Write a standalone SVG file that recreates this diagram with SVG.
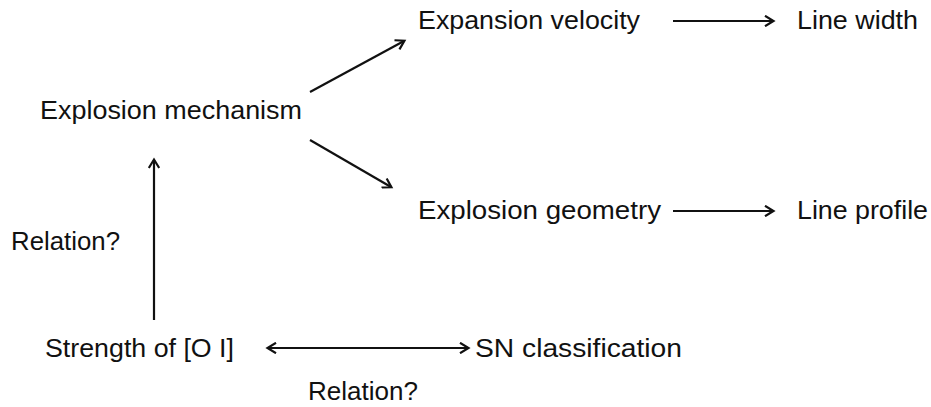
<svg xmlns="http://www.w3.org/2000/svg" width="931" height="407" viewBox="0 0 931 407">
  <style>
    .lbl { font-family: "Liberation Sans", Arial, Helvetica, sans-serif; font-size: 26px; fill: #111; }
    .conn { stroke: #111; stroke-width: 2.2; fill: none; }
  </style>
  <defs>
    <marker id="arr" viewBox="0 0 12 12" refX="9" refY="6" markerWidth="12" markerHeight="12" markerUnits="userSpaceOnUse" orient="auto-start-reverse">
      <path d="M1,0.8 L9.5,6 L1,11.2" fill="none" stroke="#111" stroke-width="2.2"/>
    </marker>
  </defs>
  <rect width="931" height="407" fill="#ffffff"/>

  <g id="n-expansion-velocity"><text class="lbl" x="418" y="29" textLength="222" lengthAdjust="spacingAndGlyphs">Expansion velocity</text></g>
  <g id="n-line-width"><text class="lbl" x="797" y="29" textLength="121" lengthAdjust="spacingAndGlyphs">Line width</text></g>
  <g id="n-explosion-mechanism"><text class="lbl" x="40" y="119" textLength="262" lengthAdjust="spacingAndGlyphs">Explosion mechanism</text></g>
  <g id="n-explosion-geometry"><text class="lbl" x="418" y="219" textLength="243" lengthAdjust="spacingAndGlyphs">Explosion geometry</text></g>
  <g id="n-line-profile"><text class="lbl" x="797" y="219" textLength="131" lengthAdjust="spacingAndGlyphs">Line profile</text></g>
  <g id="n-relation-left"><text class="lbl" x="11" y="250" textLength="109" lengthAdjust="spacingAndGlyphs">Relation?</text></g>
  <g id="n-strength-oi"><text class="lbl" x="45" y="357" textLength="189" lengthAdjust="spacingAndGlyphs">Strength of [O I]</text></g>
  <g id="n-sn-classification"><text class="lbl" x="475" y="357" textLength="207" lengthAdjust="spacingAndGlyphs">SN classification</text></g>
  <g id="n-relation-bottom"><text class="lbl" x="308" y="400" textLength="110" lengthAdjust="spacingAndGlyphs">Relation?</text></g>

  <g id="connectors">
    <line class="conn" x1="310" y1="92" x2="404" y2="41" marker-end="url(#arr)"/>
    <line class="conn" x1="310" y1="140" x2="391" y2="187" marker-end="url(#arr)"/>
    <line class="conn" x1="673" y1="21" x2="773" y2="21" marker-end="url(#arr)"/>
    <line class="conn" x1="673" y1="211" x2="773" y2="211" marker-end="url(#arr)"/>
    <line class="conn" x1="154" y1="320" x2="154" y2="160" marker-end="url(#arr)"/>
    <line class="conn" x1="268" y1="348" x2="468" y2="348" marker-start="url(#arr)" marker-end="url(#arr)"/>
  </g>
</svg>
